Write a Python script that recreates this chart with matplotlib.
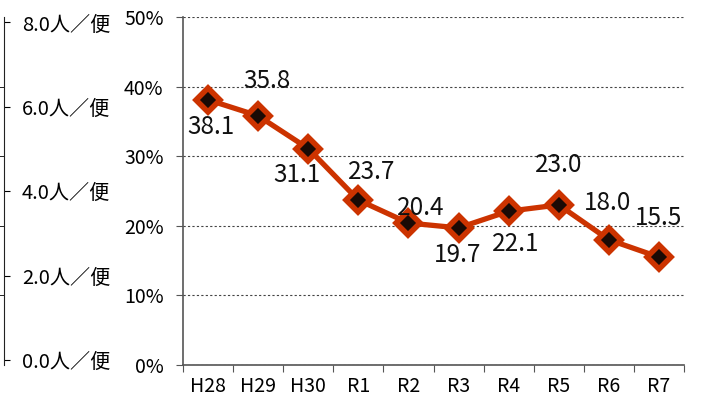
import matplotlib.pyplot as plt
import numpy as np

plt.rcParams['font.family'] = ['Noto Sans CJK JP', 'DejaVu Sans']

# datos
years = ['H28', 'H29', 'H30', 'R1', 'R2', 'R3', 'R4', 'R5', 'R6', 'R7']
rate = [38.1, 35.8, 31.1, 23.7, 20.4, 19.7, 22.1, 23.0, 18.0, 15.5]
pct_ticks = [0, 10, 20, 30, 40, 50]
per_flight_ticks = [0.0, 2.0, 4.0, 6.0, 8.0]

# desplazamiento de las etiquetas (pixeles)
label_offsets = [(3, -27), (9, 35), (-11, -26), (13, 28), (12, 15),
                 (-1, -27), (7, -33), (0, 40), (-1, 37), (0, 39)]

W, H = 701, 401
fig = plt.figure(figsize=(W / 100, H / 100), dpi=100)
ax = fig.add_axes([183 / W, 36 / H, (684 - 183) / W, (365 - 17) / H])

red = '#CC3300'
x = np.arange(len(years))
ax.plot(x, rate, color=red, lw=3.8, marker='D', markersize=12.5,
        markerfacecolor='#1a0a05', markeredgecolor=red, markeredgewidth=4,
        zorder=3)

for xi, v, (dx, dy) in zip(x, rate, label_offsets):
    ax.annotate(f'{v:.1f}', (xi, v), xytext=(dx, dy), textcoords='offset pixels',
                ha='center', va='center', fontsize=17.5, color='#111111')

ax.set_xlim(-0.5, len(years) - 0.5)
ax.set_ylim(0, 50)
ax.set_yticks(pct_ticks)
ax.set_yticklabels([f'{p}%' for p in pct_ticks])
ax.yaxis.grid(True, linestyle=(0, (2, 2)), color='#444444', lw=0.8)
ax.set_axisbelow(True)

# ticks del eje x en los limites, etiquetas en el centro
ax.set_xticks(np.arange(-0.5, len(years), 1.0))
ax.set_xticklabels([])
ax.set_xticks(x, minor=True)
ax.set_xticklabels(years, minor=True)
ax.tick_params(axis='x', which='major', direction='out', length=5, color='#555555')
ax.tick_params(axis='x', which='minor', length=0, pad=8, labelsize=14)
ax.tick_params(axis='y', direction='out', length=5, color='#555555', pad=9,
               labelsize=14)

for s in ['top', 'right']:
    ax.spines[s].set_visible(False)
for s in ['left', 'bottom']:
    ax.spines[s].set_color('#555555')
    ax.spines[s].set_linewidth(1.2)

# eje de pasajeros por vuelo a la izquierda
ax2 = ax.twinx()
lo, hi = -0.12, 8.13
ax2.set_ylim(lo, hi)
ax2.spines['right'].set_position(('axes', (4 - 183) / (684 - 183)))
for s in ['top', 'left', 'bottom']:
    ax2.spines[s].set_visible(False)
ax2.spines['right'].set_color('#222222')
ax2.set_yticks(per_flight_ticks)
ax2.set_yticklabels([f'{v:.1f}人／便' for v in per_flight_ticks])
ax2.set_yticks([lo + p / 50 * (hi - lo) for p in pct_ticks[1:-1]], minor=True)
ax2.tick_params(axis='y', which='major', direction='out', length=4, pad=9,
                labelsize=14.5)
ax2.tick_params(axis='y', which='minor', direction='in', length=4)

fig.savefig('out.png', dpi=100)
